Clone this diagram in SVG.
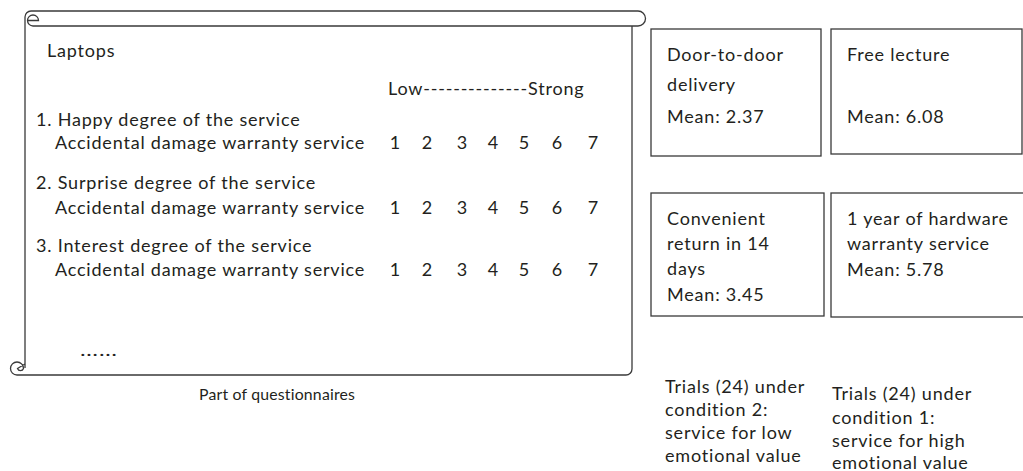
<svg xmlns="http://www.w3.org/2000/svg" width="1023" height="471" viewBox="0 0 1023 471">
  <style>
    text { font-family: "Lato", "Liberation Sans", sans-serif; font-size: 18px; letter-spacing: 0.8px; fill: #231f20; }
    .num { text-anchor: middle; letter-spacing: 0; }
    .cap { font-size: 15.8px; letter-spacing: 0.2px; }
    .ln { fill: none; stroke: #3a3a3a; stroke-width: 1.3; }
    .box { fill: #ffffff; stroke: #3a3a3a; stroke-width: 1.3; }
  </style>
  <rect width="1023" height="471" fill="#ffffff"/>

  <!-- questionnaire scroll -->
  <g id="questionnaire">
    <path class="ln" d="M25,368 V17 A6,6 0 0 1 31,11 H638 A7.5,7.5 0 0 1 638,26 H33"/>
    <path class="ln" d="M33,26 A5.5,5.5 0 1 1 38.5,20.5 H28"/>
    <path class="ln" d="M632,26 V369 A6,6 0 0 1 626,375 H17"/>
    <path class="ln" d="M17,375 A6.5,6.5 0 1 1 23.5,368.5 A3.2,3.2 0 0 1 17.5,368.5 L25,364"/>
    <text x="47" y="57">Laptops</text>
    <text x="388" y="95">Low--------------Strong</text>
    <text x="36" y="126">1. Happy degree of the service</text>
    <text x="55" y="149">Accidental damage warranty service</text>
    <text x="36" y="189">2. Surprise degree of the service</text>
    <text x="55" y="214">Accidental damage warranty service</text>
    <text x="36" y="252">3. Interest degree of the service</text>
    <text x="55" y="276">Accidental damage warranty service</text>
    <g id="scale-row-1">
      <text class="num" x="395" y="149">1</text><text class="num" x="427" y="149">2</text><text class="num" x="462" y="149">3</text><text class="num" x="493" y="149">4</text><text class="num" x="524" y="149">5</text><text class="num" x="557" y="149">6</text><text class="num" x="593" y="149">7</text>
    </g>
    <g id="scale-row-2">
      <text class="num" x="395" y="214">1</text><text class="num" x="427" y="214">2</text><text class="num" x="462" y="214">3</text><text class="num" x="493" y="214">4</text><text class="num" x="524" y="214">5</text><text class="num" x="557" y="214">6</text><text class="num" x="593" y="214">7</text>
    </g>
    <g id="scale-row-3">
      <text class="num" x="395" y="276">1</text><text class="num" x="427" y="276">2</text><text class="num" x="462" y="276">3</text><text class="num" x="493" y="276">4</text><text class="num" x="524" y="276">5</text><text class="num" x="557" y="276">6</text><text class="num" x="593" y="276">7</text>
    </g>
    <text x="80" y="356" letter-spacing="0" textLength="38" lengthAdjust="spacingAndGlyphs">……</text>
  </g>
  <text id="caption" class="cap" x="199" y="400">Part of questionnaires</text>

  <g id="door-to-door">
    <rect class="box" x="651" y="29" width="170" height="127"/>
    <text x="667" y="61">Door-to-door</text>
    <text x="667" y="91">delivery</text>
    <text x="667" y="123">Mean: 2.37</text>
  </g>
  <g id="free-lecture">
    <rect class="box" x="831" y="29" width="191" height="125"/>
    <text x="847" y="61">Free lecture</text>
    <text x="847" y="123">Mean: 6.08</text>
  </g>
  <g id="convenient-return">
    <rect class="box" x="651" y="193" width="173" height="123"/>
    <text x="667" y="225">Convenient</text>
    <text x="667" y="250">return in 14</text>
    <text x="667" y="275">days</text>
    <text x="667" y="301">Mean: 3.45</text>
  </g>
  <g id="hardware-warranty">
    <rect class="box" x="831" y="193" width="194" height="124"/>
    <text x="847" y="225">1 year of hardware</text>
    <text x="847" y="250">warranty service</text>
    <text x="847" y="276">Mean: 5.78</text>
  </g>

  <g id="condition-2">
    <text x="665" y="393">Trials (24) under</text>
    <text x="665" y="416">condition 2:</text>
    <text x="665" y="439">service for low</text>
    <text x="665" y="462">emotional value</text>
  </g>
  <g id="condition-1">
    <text x="832" y="400">Trials (24) under</text>
    <text x="832" y="424">condition 1:</text>
    <text x="832" y="447">service for high</text>
    <text x="832" y="469">emotional value</text>
  </g>
  <g id="connectors"/>
</svg>
